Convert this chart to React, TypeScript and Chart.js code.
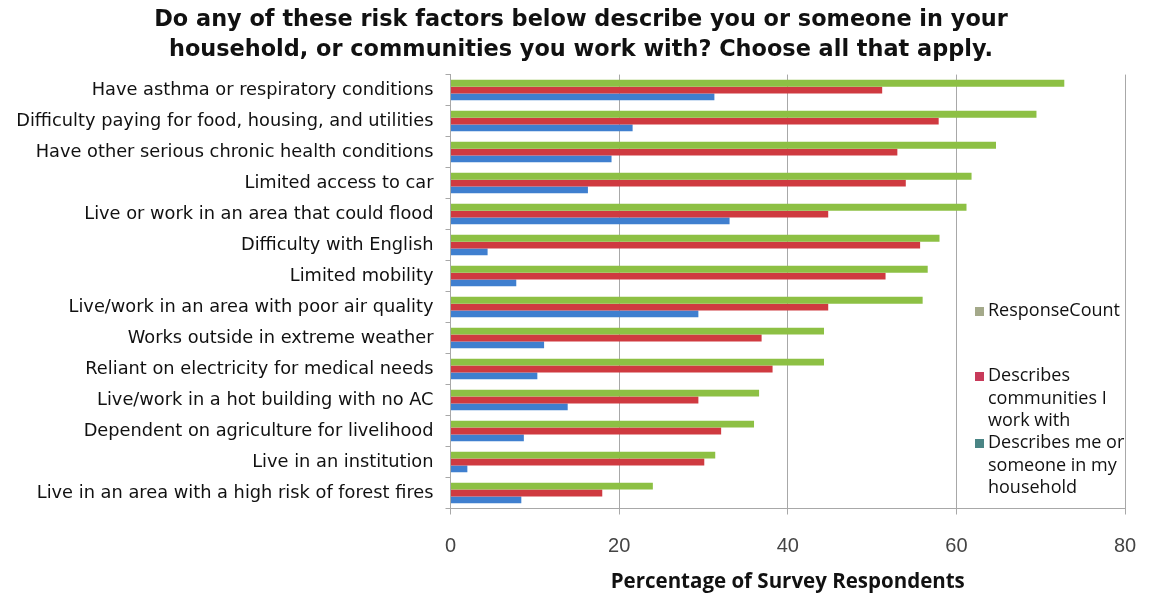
import React, { useEffect, useRef } from "react";
import { Chart, registerables } from "chart.js";

Chart.register(...registerables);

const categories = [
  "Have asthma or respiratory conditions",
  "Difficulty paying for food, housing, and utilities",
  "Have other serious chronic health conditions",
  "Limited access to car",
  "Live or work in an area that could flood",
  "Difficulty with English",
  "Limited mobility",
  "Live/work in an area with poor air quality",
  "Works outside in extreme weather",
  "Reliant on electricity for medical needs",
  "Live/work in a hot building with no AC",
  "Dependent on agriculture for livelihood",
  "Live in an institution",
  "Live in an area with a high risk of forest fires",
];

const responseCount = [72.8, 69.5, 64.7, 61.8, 61.2, 58.0, 56.6, 56.0, 44.3, 44.3, 36.6, 36.0, 31.4, 24.0];
const communities = [51.2, 57.9, 53.0, 54.0, 44.8, 55.7, 51.6, 44.8, 36.9, 38.2, 29.4, 32.1, 30.1, 18.0];
const household = [31.3, 21.6, 19.1, 16.3, 33.1, 4.4, 7.8, 29.4, 11.1, 10.3, 13.9, 8.7, 2.0, 8.4];

const seriesLabels = [
  "ResponseCount",
  "Describes communities I work with",
  "Describes me or someone in my household",
];
const barColors = ["#8dc044", "#cf3a40", "#3f7fcf"];
const legendMarkerColors = ["#a4a98a", "#c83a5a", "#4a8585"];

const titleLines = [
  "Do any of these risk factors below describe you or someone in your",
  "household, or communities you work with? Choose all that apply.",
];
const xTitle = "Percentage of Survey Respondents";
const xTicks = [0, 20, 40, 60, 80];

const LEGEND_FONT = "18px 'Open Sans', sans-serif";

const customLegend = {
  id: "customLegend",
  afterDraw(chart: any) {
    const ctx = chart.ctx;
    const area = chart.chartArea;
    const items = chart.data.datasets;
    const x0 = area.right - 150;
    const tx = area.right - 137;
    const firstLineY = [311, 376, 443];
    const lineH = 22.5;
    ctx.save();
    ctx.font = LEGEND_FONT;
    ctx.textBaseline = "middle";
    ctx.textAlign = "left";
    items.forEach((ds: any, i: number) => {
      const words = String(ds.label).split(" ");
      const lines: string[] = [];
      let cur = "";
      words.forEach((w) => {
        const test = cur ? cur + " " + w : w;
        if (cur && ctx.measureText(test).width > 155) {
          lines.push(cur);
          cur = w;
        } else {
          cur = test;
        }
      });
      if (cur) lines.push(cur);
      const y = firstLineY[i];
      ctx.fillStyle = legendMarkerColors[i];
      ctx.fillRect(x0, y - 4, 9, 9);
      ctx.fillStyle = "#111";
      lines.forEach((ln, k) => ctx.fillText(ln, tx, y + k * lineH));
    });
    ctx.restore();
  },
};

export default function App() {
  const ref = useRef<HTMLCanvasElement | null>(null);
  useEffect(() => {
    document.body.style.margin = "0";
    const canvas = ref.current!;
    const chart = new Chart(canvas, {
      type: "bar",
      data: {
        labels: categories,
        datasets: [
          { label: seriesLabels[0], data: responseCount, backgroundColor: barColors[0] },
          { label: seriesLabels[1], data: communities, backgroundColor: barColors[1] },
          { label: seriesLabels[2], data: household, backgroundColor: barColors[2] },
        ],
      },
      options: {
        indexAxis: "y",
        responsive: false,
        animation: false,
        layout: { padding: { left: 13, right: 0, top: 0, bottom: 0 } },
        datasets: {
          bar: { categoryPercentage: 0.66, barPercentage: 1.0, borderWidth: 0 },
        },
        plugins: {
          legend: { display: false },
          tooltip: { enabled: false },
          title: {
            display: true,
            text: titleLines,
            color: "#111",
            font: { family: "'DejaVu Sans', sans-serif", size: 22.4, weight: "bold", lineHeight: 1.33 },
            padding: { top: 5, bottom: 10 },
          },
        },
        scales: {
          x: {
            min: 0,
            max: 80,
            afterBuildTicks: (s: any) => {
              s.ticks = xTicks.map((v) => ({ value: v }));
            },
            afterFit: (s: any) => {
              s.height = 85.5;
              s.paddingLeft = 0;
              s.paddingRight = 24;
            },
            ticks: {
              color: "#444",
              font: { family: "'Liberation Sans', sans-serif", size: 20 },
              padding: 20,
            },
            grid: { color: "#a8a8a8", lineWidth: 1, tickLength: 6, drawTicks: true },
            border: { display: true, color: "#a8a8a8" },
            title: {
              display: true,
              text: xTitle,
              color: "#111",
              font: { family: "'Open Sans', sans-serif", size: 20.5, weight: "bold" },
              padding: { top: 0, bottom: 0 },
            },
          },
          y: {
            afterFit: (s: any) => {
              s.width = 437.5;
            },
            ticks: {
              color: "#111",
              font: { family: "'DejaVu Sans', sans-serif", size: 17.8 },
              padding: 12,
              autoSkip: false,
            },
            grid: { display: true, drawOnChartArea: false, offset: true, tickLength: 5, color: "#a8a8a8" },
            border: { display: true, color: "#a8a8a8" },
          },
        },
      },
      plugins: [customLegend],
    } as any);
    return () => chart.destroy();
  }, []);
  return (
    <div style={{ width: 1149, height: 594, background: "#fff" }}>
      <canvas ref={ref} width={1149} height={594} style={{ width: 1149, height: 594, display: "block" }} />
    </div>
  );
}
